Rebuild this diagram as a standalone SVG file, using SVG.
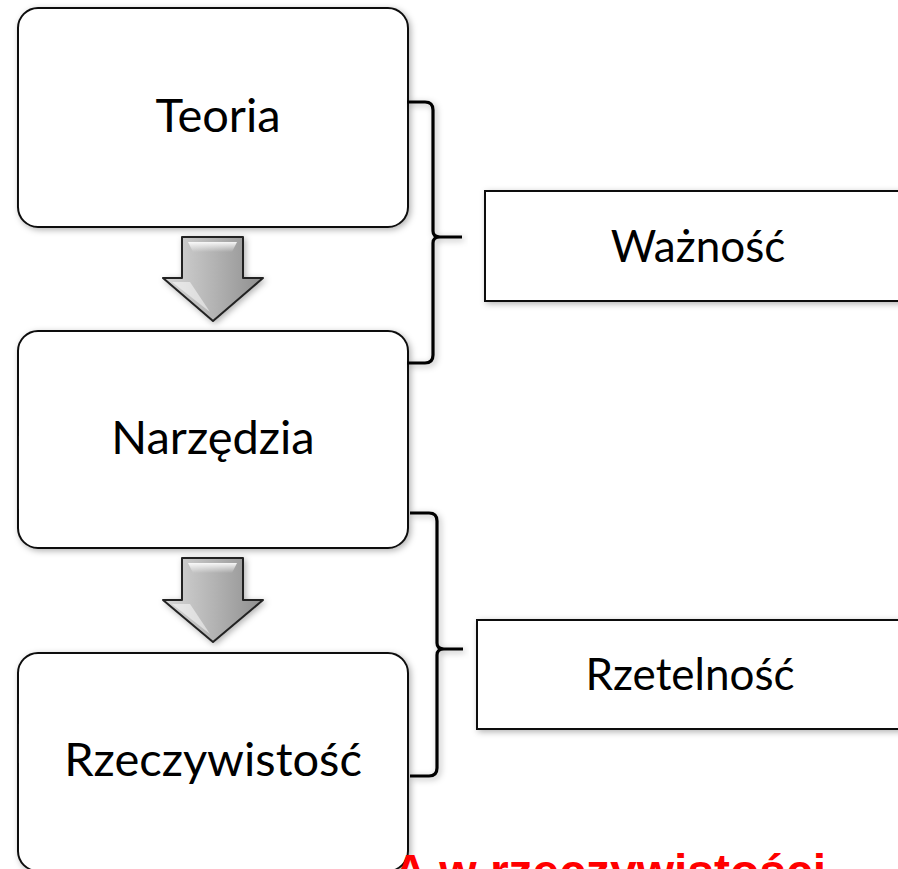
<svg xmlns="http://www.w3.org/2000/svg" width="898" height="869" viewBox="0 0 898 869">
<defs>
  <filter id="sh" x="-10%" y="-10%" width="120%" height="120%">
    <feDropShadow dx="2" dy="2" stdDeviation="3" flood-color="#000" flood-opacity="0.3"/>
  </filter>
  <linearGradient id="ag" x1="0" y1="0" x2="1" y2="0">
    <stop offset="0" stop-color="#d8d8d8"/>
    <stop offset="0.5" stop-color="#b4b4b4"/>
    <stop offset="1" stop-color="#8e8e8e"/>
  </linearGradient>
  <linearGradient id="hl" x1="0" y1="0" x2="0" y2="1">
    <stop offset="0" stop-color="#fff" stop-opacity="0.9"/>
    <stop offset="1" stop-color="#fff" stop-opacity="0"/>
  </linearGradient>
  <style>
    .box{fill:#fff;stroke:#111;stroke-width:2;filter:url(#sh)}
    .lab{font-family:Lato,"Open Sans","Liberation Sans",sans-serif;font-size:47px;fill:#000;text-anchor:middle}
    .side{font-family:Lato,"Open Sans","Liberation Sans",sans-serif;font-size:44px;fill:#000;text-anchor:middle}
    .brace{fill:none;stroke:#000;stroke-width:3.2;stroke-linejoin:round;filter:url(#sh)}
    .arrow{fill:url(#ag);stroke:#222;stroke-width:2;stroke-linejoin:round;filter:url(#sh)}
  </style>
</defs>
<rect width="898" height="869" fill="#fff"/>

<g id="teoria">
  <rect class="box" x="18" y="8" width="390" height="219" rx="20"/>
  <text class="lab" x="218" y="132">Teoria</text>
</g>
<g id="narzedzia">
  <rect class="box" x="18" y="331" width="390" height="217" rx="20"/>
  <text class="lab" x="213" y="454">Narzędzia</text>
</g>
<g id="rzeczywistosc">
  <rect class="box" x="18" y="653" width="390" height="218" rx="20"/>
  <text class="lab" x="213" y="776">Rzeczywistość</text>
</g>
<g id="waznosc">
  <rect class="box" x="485" y="191" width="430" height="110"/>
  <text class="side" x="698" y="262">Ważność</text>
</g>
<g id="rzetelnosc">
  <rect class="box" x="477" y="620" width="440" height="109"/>
  <text class="side" x="690" y="690">Rzetelność</text>
</g>

<g id="connectors">
  <g id="arrow1">
    <path class="arrow" d="M182,237 L243,237 L243,278 L263,278 L213,321 L163,278 L182,278 Z"/>
    <path d="M188,242 L237,242 L232,252 L193,252 Z" fill="url(#hl)"/>
    <path d="M172,282 L190,282 L210,312 Z" fill="#fff" opacity="0.5"/>
  </g>
  <g id="arrow2">
    <path class="arrow" d="M182,558 L243,558 L243,600 L263,600 L213,642 L163,600 L182,600 Z"/>
    <path d="M188,563 L237,563 L232,573 L193,573 Z" fill="url(#hl)"/>
    <path d="M172,604 L190,604 L210,634 Z" fill="#fff" opacity="0.5"/>
  </g>
  <path class="brace" d="M407,102 L425,102 Q433,102 433,110 L433,231 Q433,237 440,237 L462,237 M440,237 Q433,237 433,243 L433,355 Q433,363 425,363 L407,363"/>
  <path class="brace" d="M410,513 L429,513 Q437,513 437,521 L437,643 Q437,649 444,649 L463,649 M444,649 Q437,649 437,655 L437,768 Q437,776 429,776 L410,776"/>
</g>

<text x="393" y="888" font-family="'Liberation Sans',Arial,sans-serif" font-size="48" font-weight="bold" fill="#ff0000">A w rzeczywistości</text>
</svg>
